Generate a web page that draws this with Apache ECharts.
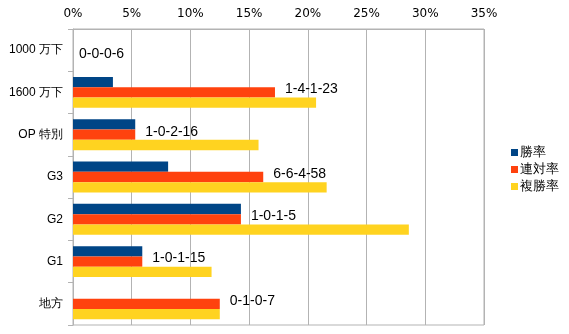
<!DOCTYPE html>
<html>
<head>
<meta charset="utf-8">
<script src="https://cdn.jsdelivr.net/npm/echarts@6/dist/echarts.min.js"></script>
<style>html,body{margin:0;padding:0;background:#fff}#c{width:569px;height:334px}</style>
</head>
<body>
<div id="c"></div>
<script>
var categories = ['1000 万下', '1600 万下', 'OP 特別', 'G3', 'G2', 'G1', '地方'];
var records = ['0-0-0-6', '1-4-1-23', '1-0-2-16', '6-6-4-58', '1-0-1-5', '1-0-1-15', '0-1-0-7'];
var winRate = [0, 3.4, 5.3, 8.1, 14.3, 5.9, 0];
var rentaiRate = [0, 17.2, 5.3, 16.2, 14.3, 5.9, 12.5];
var fukushoRate = [0, 20.7, 15.8, 21.6, 28.6, 11.8, 12.5];
var xTicks = [0, 5, 10, 15, 20, 25, 30, 35];

// a group with no bars at all gets its label centred lower, as in the original
var rentaiData = rentaiRate.map(function (v, i) {
  var empty = winRate[i] === 0 && v === 0 && fukushoRate[i] === 0;
  return empty ? {value: v, label: {distance: 6}} : v;
});

var chart = echarts.init(document.getElementById('c'), null, {renderer: 'canvas'});
chart.setOption({
  animation: false,
  grid: {left: 73, right: 85, top: 29, bottom: 9, show: true, borderColor: '#b3b3b3', borderWidth: 1},
  legend: {
    orient: 'vertical', left: 506, top: 141,
    itemWidth: 7, itemHeight: 7, itemGap: 4, icon: 'rect',
    textStyle: {fontFamily: 'DejaVu Sans', fontSize: 13, color: '#000', padding: [0,0,0,-3]},
    data: ['勝率', '連対率', '複勝率']
  },
  xAxis: {
    type: 'value', position: 'top', min: 0, max: 35, interval: 5,
    axisLine: {show: true, lineStyle: {color: '#b3b3b3'}},
    axisTick: {show: false},
    splitLine: {lineStyle: {color: '#b3b3b3'}},
    axisLabel: {fontFamily: 'DejaVu Sans', fontSize: 12, color: '#000', margin: 9,
      formatter: function (v) { return xTicks.indexOf(v) >= 0 ? v + '%' : ''; }}
  },
  yAxis: {
    type: 'category', inverse: true, data: categories,
    axisLine: {lineStyle: {color: '#b3b3b3'}},
    axisTick: {show: true, length: 5, lineStyle: {color: '#b3b3b3'}},
    axisLabel: {fontFamily: 'Liberation Sans', fontSize: 12, color: '#000', margin: 10}
  },
  series: [
    {name: '勝率', type: 'bar', data: winRate, itemStyle: {color: '#004586'}, barGap: '0%', barCategoryGap: '27%'},
    {name: '連対率', type: 'bar', data: rentaiData, itemStyle: {color: '#ff420e'}, barGap: '0%', barCategoryGap: '27%',
      label: {show: true, position: 'right', distance: 10, offset: [0, -3], lineHeight: 14,
        fontFamily: 'Liberation Sans', fontSize: 14, color: '#000',
        formatter: function (p) {
          var i = p.dataIndex;
          var empty = winRate[i] === 0 && rentaiRate[i] === 0 && fukushoRate[i] === 0;
          return (empty ? '\n' : '') + records[i];
        }}},
    {name: '複勝率', type: 'bar', data: fukushoRate, itemStyle: {color: '#ffd320'}, barGap: '0%', barCategoryGap: '27%'}
  ]
});
</script>
</body>
</html>
